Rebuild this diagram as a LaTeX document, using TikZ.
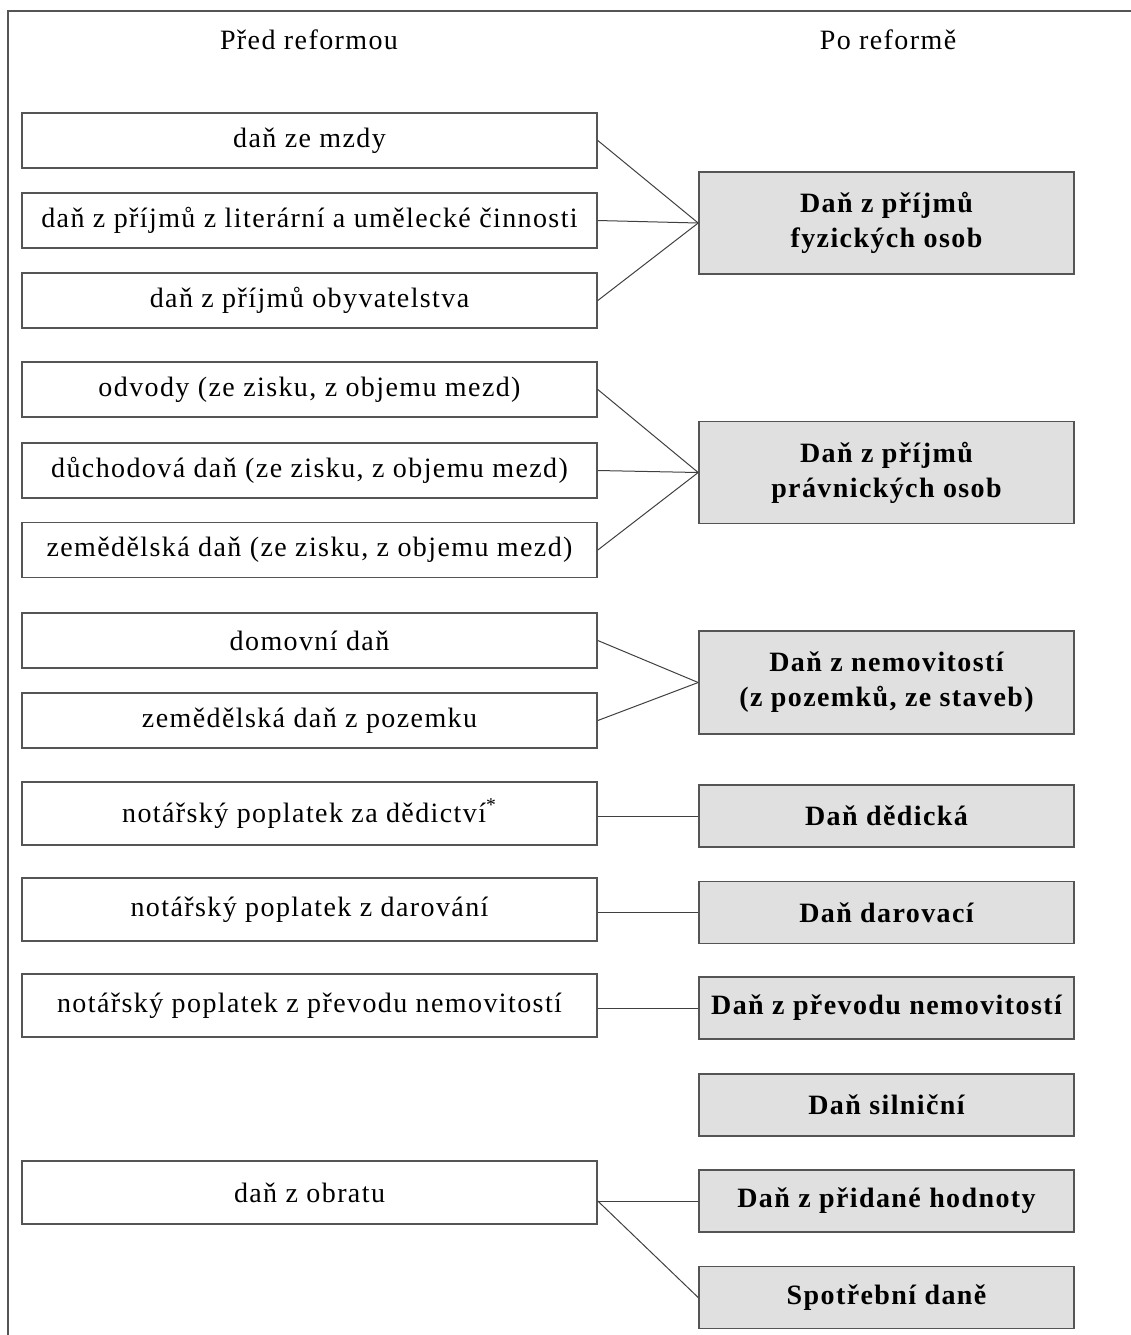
\documentclass[tikz,border=0pt]{standalone}
\usepackage{fontspec}
\setmainfont{Liberation Serif}[LetterSpace=5]
\usetikzlibrary{positioning}
\definecolor{reframe}{RGB}{85,85,85}
\definecolor{refill}{RGB}{224,224,224}

\begin{document}
\begin{tikzpicture}[x=0.5pt, y=-0.5pt,
    stara/.style={draw=reframe, line width=0.8pt, minimum width=287.5pt,
        minimum height=27.5pt, inner sep=0pt, font=\fontsize{14}{17}\selectfont},
    nova/.style={draw=reframe, fill=refill, line width=0.8pt, minimum width=187.5pt,
        minimum height=31pt, inner sep=0pt, align=center,
        font=\fontsize{14}{17.5}\selectfont\bfseries},
    spoj/.style={draw=black!75, line width=0.5pt}]

\useasboundingbox (0, 0) rectangle (1131, 1335);

% === Ramecek ===
\draw[reframe, line width=0.9pt] (8, 1340) -- (8, 11) -- (1140, 11);

% === Nadpisy ===
\node[font=\fontsize{14}{17}\selectfont] (pred) at (309, 40) {Před reformou};
\node[font=\fontsize{14}{17}\selectfont] (po) at (888, 40) {Po reformě};

% === Pred reformou ===
\node[stara] (mzdy) at (309.5, 140.5) {daň ze mzdy};
\node[stara] (literarni) at (309.5, 220.5) {daň z příjmů z literární a umělecké činnosti};
\node[stara] (obyvatelstvo) at (309.5, 300.5) {daň z příjmů obyvatelstva};
\node[stara] (odvody) at (309.5, 389.5) {odvody (ze zisku, z objemu mezd)};
\node[stara] (duchodova) at (309.5, 470.5) {důchodová daň (ze zisku, z objemu mezd)};
\node[stara] (zemedelska) at (309.5, 550) {zemědělská daň (ze zisku, z objemu mezd)};
\node[stara] (domovni) at (309.5, 640.5) {domovní daň};
\node[stara] (pozemek) at (309.5, 720.5) {zemědělská daň z pozemku};
\node[stara, minimum height=31.5pt] (dedictvi) at (309.5, 813.5) {notářský poplatek za dědictví\textsuperscript{*}};
\node[stara, minimum height=31.5pt] (darovani) at (309.5, 909.5) {notářský poplatek z darování};
\node[stara, minimum height=31.5pt] (prevod) at (309.5, 1005.5) {notářský poplatek z převodu nemovitostí};
\node[stara, minimum height=31.5pt] (obrat) at (309.5, 1192.5) {daň z obratu};

% === Po reforme ===
\node[nova, minimum height=51pt] (dpfo) at (886.5, 223) {Daň z příjmů\\fyzických osob};
\node[nova, minimum height=51pt] (dppo) at (886.5, 472.5) {Daň z příjmů\\právnických osob};
\node[nova, minimum height=51.5pt] (nemovitosti) at (886.5, 682.5) {Daň z nemovitostí\\(z pozemků, ze staveb)};
\node[nova] (dedicka) at (886.5, 816) {Daň dědická};
\node[nova] (darovaci) at (886.5, 912.5) {Daň darovací};
\node[nova] (dprevod) at (886.5, 1008) {Daň z převodu nemovitostí};
\node[nova] (silnicni) at (886.5, 1105) {Daň silniční};
\node[nova] (dph) at (886.5, 1201) {Daň z přidané hodnoty};
\node[nova] (spotrebni) at (886.5, 1297.5) {Spotřební daně};

% === Spojnice ===
\foreach \zdroj in {mzdy, literarni, obyvatelstvo}
    \draw[spoj] (\zdroj.east) -- (dpfo.west);
\foreach \zdroj in {odvody, duchodova, zemedelska}
    \draw[spoj] (\zdroj.east) -- (dppo.west);
\foreach \zdroj in {domovni, pozemek}
    \draw[spoj] (\zdroj.east) -- (nemovitosti.west);
\draw[spoj] (dedictvi.east |- dedicka.west) -- (dedicka.west);
\draw[spoj] (darovani.east |- darovaci.west) -- (darovaci.west);
\draw[spoj] (prevod.east |- dprevod.west) -- (dprevod.west);
\coordinate (obratout) at (obrat.east |- dph.west);
\draw[spoj] (obratout) -- (dph.west);
\draw[spoj] (obratout) -- (spotrebni.west);

\end{tikzpicture}
\end{document}
